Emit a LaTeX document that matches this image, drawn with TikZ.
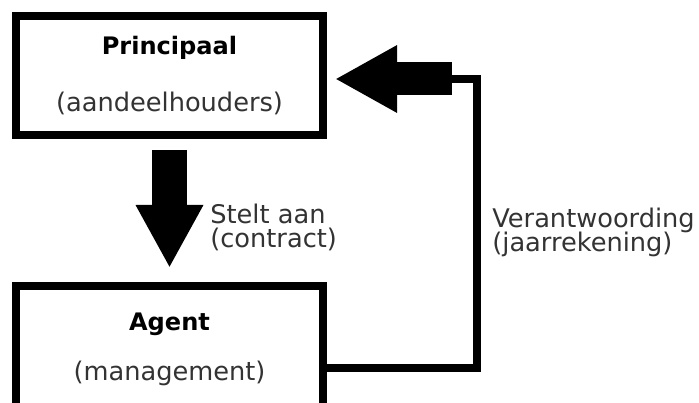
\documentclass[tikz,border=0pt]{standalone}
\usepackage{fontspec}
\setmainfont{DejaVu Sans}
\usetikzlibrary{arrows.meta,calc}
\definecolor{txtgray}{HTML}{333333}
\lineskiplimit=-10pt
\tikzset{
  party/.style={draw=black, line width=0.16cm, minimum width=6.14cm,
    align=center, inner sep=0pt, text=txtgray,
    font=\fontsize{14.6}{13.7}\selectfont},
  blockarrow/.style={-{Triangle[length=1.26cm, width=1.26cm]},
    line width=0.7cm, draw=black},
  feedarrow/.style={-{Triangle[length=1.24cm, width=1.26cm]},
    line width=0.66cm, draw=black},
  feedline/.style={line width=0.16cm, draw=black, line join=miter},
  lbl/.style={align=left, inner sep=0pt, text=txtgray,
    font=\fontsize{14.6}{13.7}\selectfont}
}
\begin{document}
\begin{tikzpicture}
  \clip (0,0) rectangle (13.98,8.06);
  \fill[white] (0,0) rectangle (13.98,8.06);

  \node[party, minimum height=2.38cm] (principaal) at (3.39,6.55)
    {{\color{black}\fontsize{13.7}{13.7}\selectfont\bfseries Principaal}\\[18.7pt](aandeelhouders)};
  \node[party, minimum height=2.52cm] (agent) at (3.39,1.08)
    {{\color{black}\fontsize{13.7}{13.7}\selectfont\bfseries Agent}\\[14.8pt](management)};

  % aanstelling
  \draw[blockarrow, shorten <=0.22cm, shorten >=0.28cm]
    (principaal.south) -- (agent.north);
  \node[lbl, anchor=west] (stelt) at (4.2,3.52) {Stelt aan\\(contract)};

  % verantwoording terug naar principaal
  \coordinate (fbk) at (9.04,6.48);
  \coordinate (turn) at (9.54,0.70);
  \draw[feedline] (agent.east |- turn) -- (turn) |- (fbk);
  \draw[feedarrow, shorten >=0.16cm] (fbk) -- (principaal.east |- fbk);
  \node[lbl, anchor=west] (verant) at (9.84,3.41)
    {Verantwoording\\(jaarrekening)};
\end{tikzpicture}
\end{document}
